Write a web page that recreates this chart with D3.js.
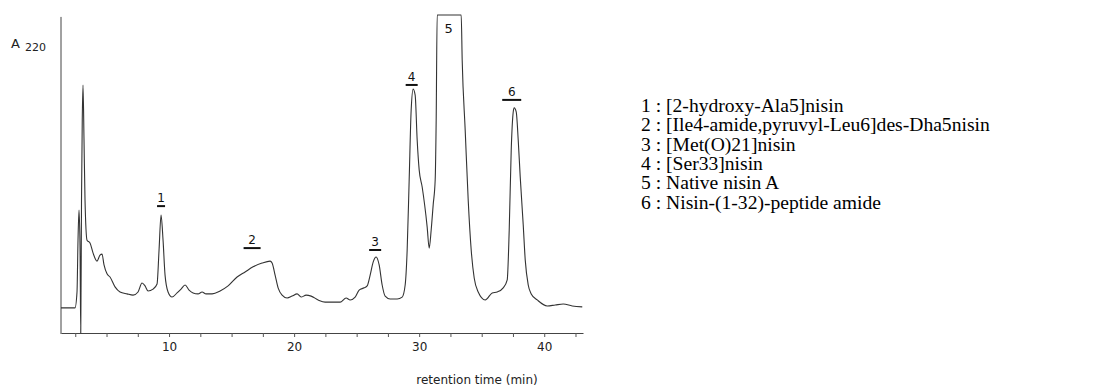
<!DOCTYPE html>
<html>
<head>
<meta charset="utf-8">
<script src="https://cdn.jsdelivr.net/npm/d3@7"></script>
<style>
  body { margin: 0; background: #fff; }
  svg { display: block; }
</style>
</head>
<body>
<svg id="chart" width="1117" height="387"></svg>
<script>
// retention time (min) and A220 (percent of full scale, peak 5 is off scale)
var times = [1.36, 2.48, 2.64, 2.72, 2.80, 2.88, 2.94, 3.00, 3.06, 3.12, 3.20, 3.28, 3.44, 3.68, 3.92, 4.24,
  4.48, 4.64, 4.80, 5.04, 5.28, 5.68, 6.08, 6.64, 7.12, 7.52, 7.84, 8.08, 8.32, 8.72, 9.04, 9.20, 9.36, 9.52,
  9.68, 9.92, 10.24, 10.64, 10.96, 11.28, 11.60, 11.92, 12.32, 12.64, 12.96, 13.44, 14.08, 14.72, 15.44,
  16.08, 16.72, 17.44, 18.08, 18.24, 18.48, 18.72, 19.04, 19.44, 19.84, 20.24, 20.56, 20.96, 21.36, 21.92,
  22.48, 23.12, 23.68, 24.16, 24.48, 24.88, 25.20, 25.60, 25.84, 26.08, 26.32, 26.56, 26.80, 27.04, 27.28,
  27.68, 28.24, 28.64, 28.88, 29.04, 29.20, 29.36, 29.52, 29.68, 29.84, 30.00, 30.24, 30.64, 30.80, 30.96,
  31.12, 31.28, 31.36, 31.44, 33.36, 33.44, 33.68, 33.92, 34.16, 34.40, 34.72, 35.28, 35.84, 36.24, 36.72,
  37.04, 37.20, 37.36, 37.52, 37.60, 37.76, 37.92, 38.08, 38.32, 38.48, 38.72, 38.96, 39.44, 40.24, 40.88,
  41.52, 42.24, 43.04];
var absorb = [7.9, 7.9, 12.9, 29.2, 38.7, 27.7, 0, 41.8, 67.0, 78.0, 60.7, 41.8, 29.2, 28.3, 25.2, 22.6,
  24.5, 24.8, 21.4, 18.6, 17.6, 14.5, 12.9, 12.3, 11.9, 12.9, 15.7, 14.8, 13.2, 13.8, 15.4, 26.1, 37.1, 29.2,
  18.2, 12.9, 11.3, 12.6, 13.8, 15.1, 13.5, 12.6, 12.3, 12.9, 12.3, 12.3, 13.2, 14.8, 17.6,
  19.2, 20.8, 22.0, 22.6, 22.0, 18.2, 14.2, 11.9, 11.0, 11.6, 12.3, 11.3, 11.9, 11.6, 10.4,
  9.7, 9.7, 9.7, 11.0, 10.4, 11.3, 13.5, 14.2, 14.8, 18.2, 22.3, 23.9, 21.4, 15.1, 11.6,
  10.7, 10.7, 11.3, 15.1, 26.1, 48.1, 70.1, 76.7, 74.8, 60.7, 51.3, 45.9, 33.3, 26.7, 32.4,
  40.3, 48.1, 67.0, 100, 100, 85.8, 63.8, 41.8, 26.1, 17.3, 12.9, 10.4, 12.6, 12.9, 14.2,
  16.7, 32.4, 57.5, 69.5, 70.8, 69.5, 60.7, 49.1, 34.0, 23.0, 15.1, 12.3, 10.4, 8.5, 8.8,
  9.1, 8.5, 8.2];

// peak markers: number, centre time, height of the bar, bar width in min
var peakNames = ["1", "2", "3", "4", "6"];
var peakAt = [9.36, 16.64, 26.48, 29.4, 37.4];
var peakMarkY = [39.9, 26.7, 26.1, 78.0, 73.3];
var peakMarkW = [0.64, 1.36, 0.96, 0.96, 1.52];
var offScaleName = "5", offScaleAt = 32.36;

var tickVals = [2.5, 5, 7.5, 10, 12.5, 15, 17.5, 20, 22.5, 25, 27.5, 30, 32.5, 35, 37.5, 40, 42.5];
var tickLabels = [10, 20, 30, 40];

var legend = [
  "1 : [2-hydroxy-Ala5]nisin",
  "2 : [Ile4-amide,pyruvyl-Leu6]des-Dha5nisin",
  "3 : [Met(O)21]nisin",
  "4 : [Ser33]nisin",
  "5 : Native nisin A",
  "6 : Nisin-(1-32)-peptide amide"
];

var svg = d3.select("#chart");
var x = d3.scaleLinear().domain([1.36, 43.1]).range([61, 583]);
var y = d3.scaleLinear().domain([0, 100]).range([333, 15]);
var sans = "DejaVu Sans, Verdana, sans-serif";

// axes
var xAxis = d3.axisBottom(x)
  .tickValues(tickVals)
  .tickSize(4)
  .tickSizeOuter(0)
  .tickFormat(function(d){ return tickLabels.indexOf(d) >= 0 ? d : ""; });
var gx = svg.append("g")
  .attr("transform", "translate(0," + y(0) + ")")
  .call(xAxis);
gx.select(".domain").attr("stroke", "#444");
gx.selectAll(".tick line").attr("stroke", "#555");
gx.selectAll(".tick text")
  .attr("font-family", sans)
  .attr("font-size", 12)
  .attr("fill", "#222")
  .attr("dy", "0.95em");

svg.append("line")
  .attr("x1", x(1.36)).attr("x2", x(1.36))
  .attr("y1", y(0) + 1).attr("y2", y(99.4))
  .attr("stroke", "#444");

svg.append("text")
  .attr("x", 11).attr("y", 48)
  .attr("font-family", sans).attr("font-size", 13).attr("fill", "#222")
  .text("A")
  .append("tspan")
  .attr("dx", 5).attr("dy", 3).attr("font-size", 11)
  .text("220");

svg.append("text")
  .attr("x", 477).attr("y", 384)
  .attr("text-anchor", "middle")
  .attr("font-family", sans).attr("font-size", 12).attr("fill", "#222")
  .text("retention time (min)");

// trace
var pts = times.map(function(t, i){ return [t, absorb[i]]; });
var line = d3.line()
  .x(function(d){ return x(d[0]); })
  .y(function(d){ return y(d[1]); })
  .curve(d3.curveMonotoneX);
svg.append("path")
  .datum(pts)
  .attr("d", line)
  .attr("fill", "none")
  .attr("stroke", "#333")
  .attr("stroke-width", 1.1);

// peak markers
peakNames.forEach(function(p, i){
  var cx = x(peakAt[i]);
  var hw = (x(peakAt[i] + peakMarkW[i] / 2) - x(peakAt[i] - peakMarkW[i] / 2)) / 2;
  svg.append("line")
    .attr("x1", cx - hw).attr("x2", cx + hw)
    .attr("y1", y(peakMarkY[i])).attr("y2", y(peakMarkY[i]))
    .attr("stroke", "#111").attr("stroke-width", 2);
  svg.append("text")
    .attr("x", cx).attr("y", y(peakMarkY[i]) - 4)
    .attr("text-anchor", "middle")
    .attr("font-family", sans).attr("font-size", 12).attr("fill", "#111")
    .text(p);
});
svg.append("text")
  .attr("x", x(offScaleAt)).attr("y", y(94.3))
  .attr("text-anchor", "middle")
  .attr("font-family", sans).attr("font-size", 13).attr("fill", "#111")
  .text(offScaleName);

// legend
svg.append("g").selectAll("text")
  .data(legend)
  .join("text")
  .attr("x", 641)
  .attr("y", function(d, i){ return 112 + i * 19.3; })
  .attr("font-family", "Liberation Serif, Times New Roman, serif")
  .attr("font-size", 19.6)
  .attr("fill", "#000")
  .text(function(d){ return d; });
</script>
</body>
</html>
